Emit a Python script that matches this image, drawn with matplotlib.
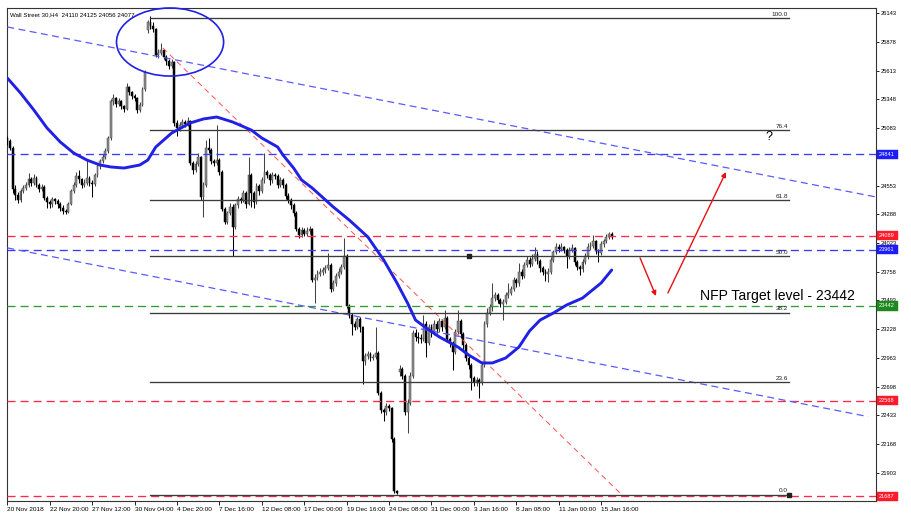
import matplotlib
matplotlib.use('Agg')
import matplotlib.pyplot as plt
import matplotlib.transforms as mtransforms
from matplotlib.patches import Ellipse, Rectangle
from matplotlib import font_manager as fm
import numpy as np

plt.rcParams['lines.scale_dashes'] = False

# ---------------- data ----------------
title_text = "Wall Street 30,H4  24110 24125 24056 24077"

date_labels = ["20 Nov 2018", "22 Nov 20:00", "27 Nov 12:00", "30 Nov 04:00",
               "4 Dec 20:00", "7 Dec 16:00", "12 Dec 08:00", "17 Dec 00:00",
               "19 Dec 16:00", "24 Dec 08:00", "31 Dec 00:00", "3 Jan 16:00",
               "8 Jan 08:00", "11 Jan 00:00", "15 Jan 16:00"]
date_bars = [0, 16, 32, 48, 64, 80, 96, 112, 128, 144, 160, 176, 192, 208, 224]

price_ticks = [26143, 25878, 25613, 25348, 25083, 24818, 24553, 24288, 24023,
               23758, 23493, 23228, 22963, 22698, 22433, 22168, 21903]
# tick labels fully covered by the coloured price boxes in the reference
hidden_tick_labels = [24818]

first_open = 24990
gap_opens = {53: 25990, 148: 22830}

closes = [
    24960, 24900, 24520, 24470, 24420, 24500, 24530, 24560, 24610, 24580,
    24620, 24560, 24520, 24540, 24440, 24400, 24380, 24430, 24410, 24380,
    24350, 24320, 24310, 24380, 24500, 24560, 24640, 24610, 24560, 24580,
    24620, 24580, 24570, 24650, 24730, 24780, 24820, 24870, 24990, 25330,
    25360, 25310, 25330, 25290, 25260, 25460, 25420, 25380, 25360, 25250,
    25300, 25440, 25600, 26060, 26030, 26000, 25760, 25780, 25800, 25740,
    25700, 25660, 25690, 25130, 25080, 25110, 25140, 25120, 25150, 24760,
    24700, 24750, 24820, 24450, 24560, 24900, 24880, 24780, 24760, 24790,
    24680, 24340, 24220, 24300, 24360, 24170, 24370, 24430, 24420, 24480,
    24380, 24650, 24480, 24400, 24550, 24500, 24600, 24680, 24650, 24600,
    24650, 24640, 24560, 24600, 24560, 24460, 24420, 24370, 24300, 24150,
    24100, 24140, 24110, 24130, 24150, 23680, 23700, 23740, 23760, 23770,
    23790, 23820, 23600, 23650, 23720, 23760, 23800, 23900, 23440, 23360,
    23280, 23250, 23320, 23250, 22930, 22980, 23000, 22960, 22970, 23010,
    22640, 22480, 22460, 22520, 22500, 22210, 21730, 21720, 22860, 22800,
    22460, 22550, 22800, 23190, 23160, 23150, 23140, 23280, 23100, 23250,
    23200, 23280, 23230, 23300, 23250, 23330, 23140, 23100, 23020, 23200,
    23300, 23180, 23080, 22960, 22900, 22780, 22740, 22760, 22730, 22900,
    23280, 23380, 23430, 23520, 23540, 23500, 23460, 23480, 23540, 23560,
    23600, 23680, 23650, 23760, 23720, 23820, 23870, 23830, 23880, 23920,
    23860, 23790, 23760, 23740, 23760, 23870, 23940, 23990, 23970, 23990,
    23960, 23900, 23960, 23980, 23850, 23800, 23780, 23850, 23900, 23990,
    24000, 24040, 23950, 23930, 24010, 24040, 24080, 24110, 24077]

highs = [
    25010, 24980, 24920, 24560, 24490, 24520, 24560, 24590, 24670, 24630,
    24660, 24640, 24580, 24570, 24560, 24460, 24420, 24450, 24440, 24430,
    24400, 24370, 24340, 24400, 24520, 24590, 24680, 24700, 24620, 24610,
    24790, 24640, 24600, 24670, 24750, 24800, 24840, 24900, 25010, 25350,
    25400, 25370, 25360, 25340, 25300, 25500, 25470, 25430, 25400, 25370,
    25320, 25460, 25620, 26080, 26118, 26060, 26010, 25810, 25870, 25810,
    25760, 25720, 25720, 25700, 25160, 25140, 25170, 25160, 25190, 25160,
    24780, 24780, 24850, 24830, 24590, 24970, 24990, 24900, 24800, 25110,
    24810, 24700, 24360, 24320, 24390, 24380, 24390, 24460, 24450, 24510,
    24500, 24815, 24670, 24500, 24580, 24570, 24630, 24850, 24700, 24670,
    24680, 24670, 24660, 24630, 24620, 24580, 24480, 24440, 24390, 24320,
    24170, 24170, 24160, 24170, 24180, 24160, 23740, 23770, 23790, 23800,
    23820, 23930, 23840, 23680, 23750, 23790, 23830, 24070, 23920, 23460,
    23380, 23300, 23340, 23340, 23260, 23010, 23030, 23020, 23000, 23250,
    23030, 22660, 22500, 22550, 22540, 22510, 22230, 21740, 22900, 22880,
    22810, 22580, 22830, 23220, 23230, 23200, 23180, 23360, 23300, 23280,
    23280, 23310, 23300, 23330, 23320, 23405, 23350, 23160, 23120, 23230,
    23405, 23320, 23200, 23100, 22980, 22920, 22800, 22790, 22780, 22930,
    23300, 23420, 23460, 23651, 23570, 23560, 23520, 23510, 23570, 23650,
    23630, 23710, 23700, 23835, 23780, 23850, 23900, 23890, 23920, 23990,
    23950, 23880, 23810, 23780, 23790, 23890, 23960, 24020, 24010, 24020,
    24000, 23980, 23990, 24010, 23990, 23870, 23820, 23880, 23930, 24020,
    24030, 24097, 24050, 23970, 24040, 24060, 24110, 24128, 24125]

lows = [
    24930, 24880, 24480, 24420, 24390, 24400, 24480, 24510, 24540, 24550,
    24560, 24540, 24490, 24500, 24420, 24350, 24350, 24360, 24380, 24350,
    24320, 24290, 24290, 24300, 24370, 24480, 24540, 24580, 24530, 24540,
    24560, 24550, 24450, 24550, 24630, 24710, 24760, 24800, 24850, 24970,
    25300, 25280, 25290, 25260, 25230, 25250, 25390, 25350, 25330, 25220,
    25230, 25290, 25430, 25960, 26000, 25970, 25740, 25730, 25760, 25720,
    25670, 25630, 25640, 25100, 25010, 25060, 25090, 25090, 25100, 24740,
    24660, 24680, 24730, 24420, 24265, 24540, 24850, 24750, 24730, 24740,
    24650, 24320, 24200, 24200, 24280, 23900, 24150, 24350, 24390, 24400,
    24350, 24370, 24360, 24350, 24380, 24470, 24480, 24580, 24620, 24560,
    24580, 24610, 24530, 24540, 24530, 24430, 24390, 24340, 24270, 24130,
    24070, 24080, 24090, 24090, 24110, 23660, 23470, 23680, 23720, 23730,
    23750, 23770, 23570, 23580, 23630, 23700, 23740, 23780, 23420, 23330,
    23170, 23220, 23230, 23200, 22720, 22900, 22950, 22930, 22940, 22950,
    22620, 22450, 22380, 22440, 22470, 22190, 21712, 21705, 22800, 22770,
    22440, 22270, 22530, 22780, 23120, 23100, 23100, 23120, 22970, 23080,
    23160, 23170, 23190, 23200, 23210, 23230, 23110, 23060, 22850, 23000,
    23180, 23150, 23040, 22930, 22860, 22667, 22700, 22700, 22590, 22710,
    22880, 23250, 23360, 23400, 23490, 23470, 23430, 23312, 23460, 23520,
    23540, 23580, 23620, 23630, 23690, 23700, 23800, 23800, 23810, 23860,
    23830, 23760, 23730, 23670, 23666, 23740, 23850, 23920, 23940, 23950,
    23930, 23789, 23880, 23940, 23820, 23770, 23728, 23760, 23830, 23880,
    23960, 23980, 23920, 23851, 23910, 23990, 24020, 24060, 24056]

# moving average (bar index, value)
ma_bars = [0, 5, 10, 15, 20, 25, 30, 35, 39, 44, 50, 53, 56, 62, 69, 74, 79, 85,
           92, 96, 102, 104, 108, 111, 115, 123, 129, 136, 142, 147, 151, 154,
           158, 163, 170, 174, 179, 183, 188, 193, 197, 201, 206, 211, 217, 224, 228]
ma_vals = [25546, 25407, 25251, 25084, 24955, 24854, 24789, 24743, 24725, 24715,
           24743, 24789, 24909, 25038, 25131, 25168, 25186, 25140, 25066, 24992,
           24909, 24835, 24715, 24605, 24531, 24355, 24235, 24079, 23866, 23654,
           23469, 23312, 23239, 23156, 23063, 22990, 22916, 22916, 22962, 23063,
           23211, 23312, 23377, 23451, 23515, 23654, 23774]

# horizontal levels
level_values = [24841, 24089, 23961, 23442, 22568, 21687]
level_colors = ['#3a3aff', '#ff2a4a', '#3a3aff', '#2e9e2e', '#ff2a4a', '#ff2a4a']
box_colors = ['#1c1cff', '#ff1a2a', '#1c1cff', '#1e8a1e', '#ff1a2a', '#ff1a2a']

# trend lines (bar, price) endpoints
upper_trend = [(0, 26017), (327.7, 24448)]
lower_trend = [(0, 23978), (324.7, 22421)]
red_trend = [(58.7, 25823), (231.5, 21707)]

# fibonacci retracement
fib_high = 26100
fib_low = 21700
fib_start_bar = 54
fib_end_bar = 295
fib_levels = [100.0, 76.4, 61.8, 50.0, 38.2, 23.6, 0.0]
fib_labels = ["100.0", "76.4", "61.8", "50.0", "38.2", "23.6", "0.0"]

# annotations
ellipse_center = (61.4, 25878)
ellipse_size = (40.4, 628)
arrow_down = [(238.7, 23885), (244.7, 23534)]
arrow_up = [(249.2, 23562), (271.1, 24678)]
nfp_text = "NFP Target level - 23442"
nfp_pos = (261.2, 23497)
question_pos = (287.3, 24999)

# ---------------- fonts ----------------
names = {f.name for f in fm.fontManager.ttflist}
if 'Liberation Sans Narrow' in names:
    FONT = ['Liberation Sans Narrow', 'DejaVu Sans']
    K = 1.0
else:
    FONT = ['Liberation Sans', 'DejaVu Sans']
    K = 0.82
plt.rcParams['font.family'] = FONT

# ---------------- figure ----------------
W, H = 912, 526
fig = plt.figure(figsize=(W / 100, H / 100), dpi=100)
fig.patch.set_facecolor('white')
ax = fig.add_axes([7.3 / W, (H - 501) / H, (876 - 7.3) / W, 493 / H])
ax.set_xlim(0, 327.7)
ax.set_ylim(21642, 26192)

n = len(closes)
x = np.arange(n)
opens = [first_open] + [gap_opens.get(i, closes[i - 1]) for i in range(1, n)]
opens = np.array(opens, dtype=float)
c = np.array(closes, dtype=float)
hi = np.array(highs, dtype=float)
lo = np.array(lows, dtype=float)
bull = c >= opens

# wicks
ax.vlines(x[bull], lo[bull], hi[bull], colors='#444444', lw=0.75, zorder=3)
ax.vlines(x[~bull], lo[~bull], hi[~bull], colors='#000000', lw=0.75, zorder=3)
# bodies
bottom = np.minimum(opens, c)
height = np.maximum(np.abs(c - opens), 6)
ax.bar(x[bull], height[bull], bottom=bottom[bull], width=0.7,
       color='#8e8e8e', edgecolor='#444444', linewidth=0.35, zorder=3)
ax.bar(x[~bull], height[~bull], bottom=bottom[~bull], width=0.7,
       color='#000000', edgecolor='#000000', linewidth=0.35, zorder=3)

# horizontal dashed levels
for v, col in zip(level_values, level_colors):
    ax.axhline(v, color=col, lw=0.95, linestyle=(0, (5.8, 3.6)), zorder=4)

# trend lines
ax.plot([p[0] for p in upper_trend], [p[1] for p in upper_trend],
        color='#5a5aff', lw=0.9, linestyle=(0, (5.0, 3.2)), zorder=4)
ax.plot([p[0] for p in lower_trend], [p[1] for p in lower_trend],
        color='#5a5aff', lw=0.9, linestyle=(0, (5.0, 3.2)), zorder=4)
ax.plot([p[0] for p in red_trend], [p[1] for p in red_trend],
        color='#ff5050', lw=0.7, linestyle=(0, (4.0, 3.0)), zorder=4)

# fibonacci lines
for lvl, lab in zip(fib_levels, fib_labels):
    pv = fib_low + (fib_high - fib_low) * lvl / 100.0
    ax.plot([fib_start_bar, fib_end_bar], [pv, pv], color='#3c3c3c', lw=0.95, zorder=4)
    ax.text(fib_end_bar - 0.5, pv + 12, lab, ha='right', va='bottom',
            fontsize=5.6 * K, color='#202020', zorder=6)
mid_fib = fib_low + (fib_high - fib_low) * 0.5
ax.plot([174.2], [mid_fib], marker='s', ms=2.2, color='#202020', zorder=6)
ax.plot([fib_end_bar], [fib_low], marker='s', ms=2.2, color='#202020', zorder=6)

# moving average
ax.plot(ma_bars, ma_vals, color='#2020e6', lw=2.1, zorder=5,
        solid_joinstyle='round', solid_capstyle='round')

# ellipse around the top
ell = Ellipse(ellipse_center, ellipse_size[0], ellipse_size[1], fill=False,
              edgecolor='#2020e6', lw=1.2, zorder=6, clip_on=False)
ax.add_patch(ell)

# arrows
for (p0, p1) in (arrow_down, arrow_up):
    ax.annotate('', xy=p1, xytext=p0,
                arrowprops=dict(arrowstyle='-|>', color='#e81010', lw=1.0,
                                mutation_scale=7, shrinkA=0, shrinkB=0),
                zorder=7)

# texts
ax.text(nfp_pos[0], nfp_pos[1], nfp_text, ha='left', va='baseline',
        fontsize=12.3 * K, color='#000000', zorder=7)
ax.text(question_pos[0], question_pos[1], '?', ha='center', va='center',
        fontsize=11 * K, color='#000000', zorder=7)
ax.text(0.003, 0.9868, title_text, transform=ax.transAxes, ha='left',
        va='center', fontsize=5.4 * K, color='#000000', zorder=7)

# axes styling
for s in ax.spines.values():
    s.set_color('#333333')
    s.set_linewidth(0.8)
ax.yaxis.tick_right()
ax.set_yticks(price_ticks)
ax.set_yticklabels(['' if p in hidden_tick_labels else str(p) for p in price_ticks])
ax.tick_params(axis='y', length=2.4, width=0.6, pad=1, labelsize=5.1 * K,
               colors='#000000')
ax.set_xticks(date_bars)
ax.set_xticklabels(date_labels)
ax.tick_params(axis='x', length=2.8, width=0.6, pad=1.2, labelsize=5.7 * K,
               colors='#000000')
for lab in ax.get_xticklabels():
    lab.set_horizontalalignment('left')

# price boxes on the right scale
blend = mtransforms.blended_transform_factory(ax.transAxes, ax.transData)
for v, col in zip(level_values, box_colors):
    ax.add_patch(Rectangle((1.0012, v - 42), 0.0242, 84, transform=blend,
                           facecolor=col, edgecolor=col, lw=0.3,
                           clip_on=False, zorder=8))
    ax.text(1.0032, v, str(v), transform=blend, ha='left', va='center',
            fontsize=5.0 * K, color='white', zorder=9, clip_on=False)

fig.savefig('out.png', dpi=100)
